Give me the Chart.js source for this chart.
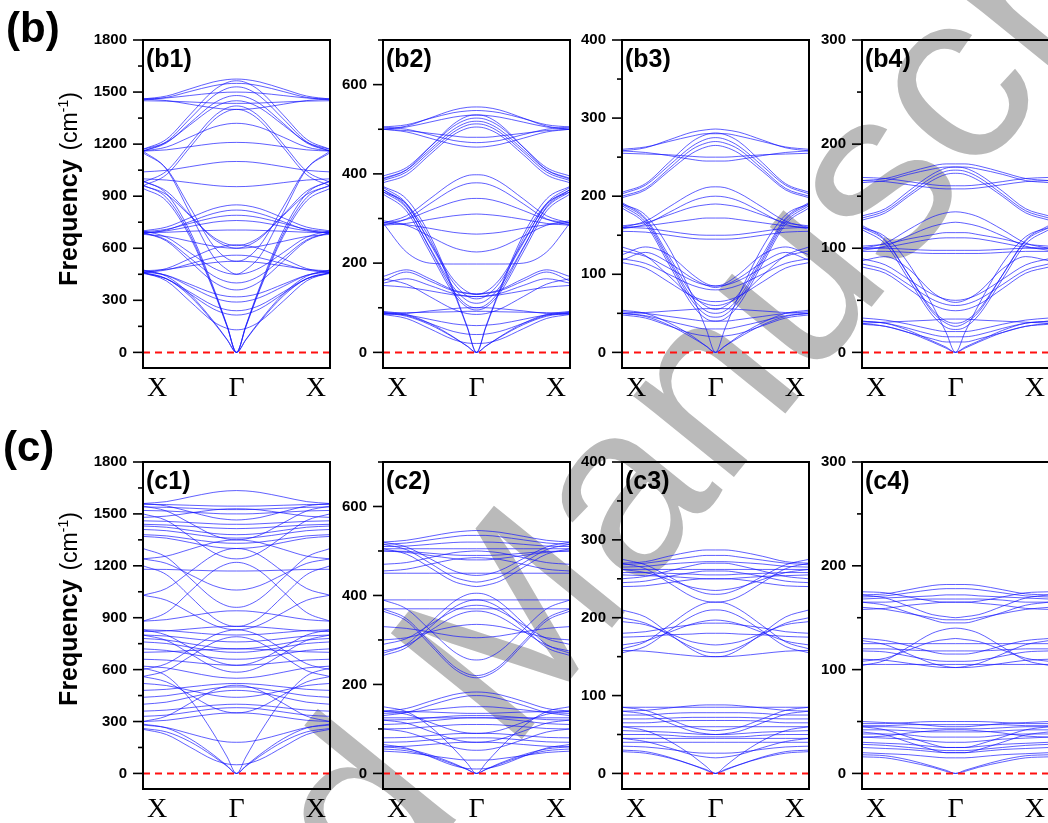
<!DOCTYPE html>
<html><head><meta charset="utf-8">
<script src="https://cdn.jsdelivr.net/npm/chart.js@4.4.1/dist/chart.umd.min.js"></script>
<style>
html,body{margin:0;padding:0;background:#fff;width:1048px;height:823px;overflow:hidden;position:relative;font-family:"Liberation Sans",Arial,sans-serif;}
canvas.pc{position:absolute;z-index:2;}
#wm{position:absolute;left:0;top:0;z-index:1;}
.big{position:absolute;font-weight:bold;font-size:42px;line-height:1;z-index:3;}
.ytitle{position:absolute;white-space:nowrap;transform:translate(-50%,-50%) rotate(-90deg);line-height:1;z-index:3;}
.ytitle b{font-size:25px;}
.ytitle span{font-size:23px;}
.ytitle sup{font-size:14px;}
</style></head><body>
<canvas id="wm" width="1048" height="823"></canvas>
<div class="big" style="left:6px;top:7px;">(b)</div>
<div class="big" style="left:3px;top:426px;">(c)</div>
<div class="ytitle" style="left:68px;top:189px;"><b>Frequency</b>&nbsp;&nbsp;<span>(cm<sup>-1</sup>)</span></div>
<div class="ytitle" style="left:68px;top:609px;"><b>Frequency</b>&nbsp;&nbsp;<span>(cm<sup>-1</sup>)</span></div>
<script>
// ---- shared k-path (fraction of X→Γ) and x tick labels ----
const kHalf = [0, 0.25, 0.5, 0.75, 0.9, 1];
const xTickPos = [0.15, 1, 1.85];
const xTickLabels = ['X', '\u0393', 'X'];

// ---- y-axis ticks ----
const b1Ticks = [0, 300, 600, 900, 1200, 1500, 1800];
const b1Minor = [150, 450, 750, 1050, 1350, 1650];
const b2Ticks = [0, 200, 400, 600];
const b2Minor = [100, 300, 500, 700];
const b3Ticks = [0, 100, 200, 300, 400];
const b3Minor = [50, 150, 250, 350];
const b4Ticks = [0, 100, 200, 300];
const b4Minor = [50, 150, 250];

// ---- band values at kHalf (X ... Γ), cm^-1 ----
const b1Bands = [
[460,425,325,176,72,0],[475,439,336,182,74,0],[945,873,668,362,147,0],[965,892,682,370,151,0],[990,915,700,379,154,0],
[460,412,295,178,138,130],[460,424,338,251,221,215],[455,424,348,271,245,240],[470,444,380,316,294,290],[465,444,393,341,323,320],
[470,478,498,517,524,525],[460,475,510,545,558,560],[460,483,540,597,616,620],
[690,642,525,408,368,360],[690,648,545,442,407,400],[700,664,575,487,456,450],[680,668,640,612,602,600],
[690,700,725,750,758,760],[695,709,743,776,788,790],[685,705,753,800,817,820],[700,722,775,828,846,850],[690,692,698,703,705,705],
[960,910,788,665,624,615],[985,929,793,656,611,600],[1000,993,978,962,956,955],[1040,1049,1070,1091,1099,1100],
[960,1024,1180,1336,1389,1400],[980,1044,1200,1356,1409,1420],
[1160,1167,1185,1203,1209,1210],[1160,1183,1240,1297,1316,1320],[1160,1214,1345,1476,1521,1530],[1170,1228,1368,1507,1555,1565],
[1160,1207,1320,1433,1472,1480],[1170,1211,1310,1409,1443,1450],[1160,1056,805,554,477,450],[1150,1059,838,616,540,525],
[1460,1477,1518,1558,1572,1575],[1455,1469,1503,1536,1548,1550],[1460,1466,1480,1494,1499,1500],[1460,1451,1430,1409,1401,1400],[1450,1448,1443,1437,1435,1435]
];
const b2Bands = [
[500,507,525,543,549,550],[505,510,524,537,541,542],[500,505,516,527,531,532],[500,494,480,466,461,460],[505,500,488,475,471,470],[500,497,491,485,482,482],
[380,398,443,487,502,505],[385,404,449,493,509,512],[390,409,454,499,515,518],[395,414,460,506,522,525],[388,409,460,511,529,532],
[365,326,233,139,106,100],[360,324,235,147,116,110],[370,334,245,157,126,120],[365,331,248,164,136,130],[355,317,225,133,101,95],
[290,306,344,382,396,398],[285,299,333,366,378,380],[290,298,318,337,344,345],[285,289,298,306,309,310],[290,286,278,269,266,265],
[295,285,260,235,227,225],[290,225,200,198,198,198],
[160,180,160,138,132,130],[170,185,165,140,133,131],[155,165,150,132,126,125],[150,146,138,129,126,125],[165,153,125,97,87,85],
[88,81,62,34,14,0],[92,85,65,35,14,0],[88,84,74,64,61,60],[90,83,65,47,41,40],[85,76,53,29,21,20],[85,87,93,98,100,100],[88,89,90,91,92,92],
[360,333,255,138,56,0],[372,344,263,142,58,0]
];
const b3Bands = [
[258,262,272,282,285,286],[260,263,270,277,280,280],[258,256,252,247,245,245],[255,254,253,251,250,250],
[198,208,232,255,263,265],[200,210,235,260,268,270],[203,214,239,264,273,275],[205,216,243,270,279,281],
[190,170,120,70,53,50],[188,167,117,66,48,45],[192,172,124,75,59,55],[185,164,113,61,43,40],
[160,168,186,204,211,212],[158,164,179,194,199,200],[162,166,176,186,189,190],[160,162,166,170,172,172],[160,159,155,151,150,150],[155,154,150,146,145,145],
[130,123,108,92,86,85],[120,114,100,86,81,80],[115,108,90,72,66,65],[125,135,125,100,88,85],[118,128,115,95,86,83],[135,124,98,71,62,60],
[50,46,35,19,8,0],[54,50,38,21,8,0],[50,47,40,33,30,30],[48,44,34,24,21,20],[52,50,46,42,40,40],[50,51,53,55,56,56],
[190,176,134,73,30,0]
];
const b4Bands = [
[165,167,173,179,181,181],[163,165,171,176,178,178],[165,164,161,158,157,157],[168,167,164,161,160,160],
[127,134,150,165,171,172],[129,136,152,168,174,175],[131,138,155,171,177,178],
[122,108,74,39,28,25],[120,107,74,41,30,28],[118,104,70,36,24,22],
[100,105,118,130,134,135],[98,102,112,121,124,125],[102,104,109,113,115,115],[100,101,105,109,110,110],[100,100,99,98,98,98],[97,97,96,95,95,95],
[90,84,70,56,51,50],[85,79,65,51,46,45],[82,76,61,46,41,40],[88,92,80,58,50,48],
[30,28,21,11,5,0],[27,25,19,10,4,0],[33,31,27,22,20,20],[30,28,23,17,15,15],[28,25,19,13,10,10],[28,29,30,31,32,32],
[120,111,85,46,19,0]
];
const c1Bands = [
[1560,1571,1598,1624,1633,1635],[1555,1554,1550,1546,1545,1545],[1540,1538,1533,1527,1525,1525],[1520,1517,1510,1503,1500,1500],
[1480,1487,1505,1523,1529,1530],[1560,1546,1513,1479,1468,1465],[1460,1457,1450,1443,1440,1440],[1440,1436,1428,1419,1416,1415],
[1430,1423,1405,1387,1381,1380],[1410,1403,1385,1367,1361,1360],[1380,1373,1355,1337,1331,1330],[1370,1360,1335,1310,1302,1300],
[1545,1517,1448,1378,1355,1350],[1500,1462,1370,1278,1246,1240],[1240,1256,1295,1334,1347,1350],
[1030,1069,1165,1261,1294,1300],[880,930,1050,1170,1211,1220],[1240,1214,1150,1086,1064,1060],[1180,1179,1175,1171,1170,1170],
[1200,1149,1025,901,858,850],[1300,1250,1130,1010,968,960],[880,889,910,931,939,940],[1030,1001,930,859,835,830],
[830,826,815,804,801,800],[820,824,835,846,849,850],[800,794,780,766,761,760],[780,771,750,729,721,720],[760,751,730,709,701,700],
[720,711,690,669,661,660],[600,634,715,796,824,830],[560,594,675,756,784,790],[830,800,728,655,630,625],[800,769,693,616,590,585],
[660,655,643,630,626,625],[620,610,585,560,552,550],[700,703,710,717,720,720],
[480,486,500,514,519,520],[440,449,470,491,499,500],[520,508,480,452,442,440],[400,412,440,468,478,480],[360,366,380,394,399,400],
[330,337,355,373,379,380],[300,307,325,343,349,350],[560,529,455,381,355,350],[300,331,405,479,505,510],[280,265,230,195,182,180],
[260,240,184,100,41,0],[285,263,201,109,44,0],[610,564,431,234,95,0],[255,225,153,80,55,50]
];
const c2Bands = [
[520,524,533,542,545,546],[515,518,525,532,535,535],[510,511,515,519,520,520],[505,505,505,505,505,505],[500,499,495,491,490,490],[500,497,490,483,480,480],
[520,509,483,456,447,445],[515,503,473,442,433,430],[505,493,463,432,423,420],[470,474,485,496,499,500],[455,459,470,481,484,485],[450,450,450,450,450,450],
[270,290,338,385,402,405],[265,283,328,372,387,390],[290,303,334,365,376,378],[390,370,323,275,258,255],[370,348,295,242,224,220],[365,343,290,237,219,215],
[330,326,318,309,306,305],[390,390,390,390,390,390],[370,370,370,370,370,370],[300,305,318,330,334,335],[275,288,320,352,363,365],
[140,146,162,177,182,183],[130,137,153,168,174,175],[135,137,143,148,150,150],[140,139,138,136,135,135],[120,121,125,129,130,130],[110,112,118,123,125,125],
[100,101,105,109,110,110],[80,81,85,89,90,90],[70,71,75,79,80,80],[60,61,65,69,70,70],[140,133,115,97,91,90],[120,113,95,77,71,70],[100,93,76,59,53,52],
[60,55,42,23,9,0],[55,51,39,21,9,0],[50,47,40,33,30,30],[65,57,38,18,11,10],[150,139,106,57,23,0],[125,125,125,125,125,125]
];
const c3Bands = [
[270,272,279,285,287,287],[268,270,274,278,280,280],[265,266,269,271,272,272],[262,262,262,262,262,262],[258,258,257,256,255,255],[255,254,253,251,250,250],
[275,268,253,237,231,230],[270,263,245,227,221,220],[262,258,249,239,236,235],[245,247,253,258,260,260],[240,241,245,249,250,250],[250,253,260,267,270,270],
[160,169,190,211,219,220],[155,163,183,202,209,210],[165,170,181,192,196,197],[210,201,180,159,151,150],[200,193,178,162,156,155],[195,191,180,169,166,165],
[180,182,187,191,193,193],[175,176,178,179,180,180],[158,157,154,151,150,150],
[80,81,84,87,88,88],[85,85,85,85,85,85],[75,75,77,78,78,78],[70,70,71,72,72,72],[65,65,67,68,68,68],[60,60,60,60,60,60],[55,54,53,51,50,50],
[50,50,49,47,47,47],[45,45,45,45,45,45],[40,40,40,40,40,40],[85,81,70,59,56,55],[80,76,65,54,51,50],[35,34,31,27,26,26],
[30,28,21,11,5,0],[28,26,20,11,4,0],[45,41,33,24,21,20],[60,55,42,23,9,0]
];
const c4Bands = [
[172,173,177,181,182,182],[170,171,174,177,178,178],[168,169,170,171,172,172],[165,165,167,168,168,168],[175,174,170,166,165,165],
[172,169,161,153,151,150],[165,162,155,148,145,145],[160,158,154,150,148,148],[158,159,162,164,165,165],
[104,109,122,135,139,140],[108,111,119,127,129,130],[125,125,125,125,125,125],[130,128,123,117,115,115],[118,117,113,109,108,108],
[110,109,106,103,102,102],[128,124,115,106,103,102],[120,120,119,118,118,118],[105,105,105,105,105,105],
[48,48,49,50,50,50],[46,46,47,47,47,47],[45,45,44,43,43,43],[42,42,41,40,40,40],[38,38,37,35,35,35],[35,34,33,31,30,30],
[30,29,28,26,25,25],[28,27,25,23,22,22],[25,24,23,21,20,20],[20,19,18,16,15,15],[45,42,35,28,25,25],[40,37,30,23,20,20],
[18,17,13,7,3,0],[16,15,11,6,2,0],[50,49,48,46,45,45],[35,36,39,41,42,42]
];

// ---- panel layout (pixel placement of each plot frame) ----
const panels = [
  {bands:b1Bands, min:-90, max:1800, ticks:b1Ticks, minor:b1Minor, label:'(b1)', l:143, t:40, h:328},
  {bands:b2Bands, min:-35, max:700,  ticks:b2Ticks, minor:b2Minor, label:'(b2)', l:383, t:40, h:328},
  {bands:b3Bands, min:-20, max:400,  ticks:b3Ticks, minor:b3Minor, label:'(b3)', l:622, t:40, h:328},
  {bands:b4Bands, min:-15, max:300,  ticks:b4Ticks, minor:b4Minor, label:'(b4)', l:862, t:40, h:328},
  {bands:c1Bands, min:-90, max:1800, ticks:b1Ticks, minor:b1Minor, label:'(c1)', l:143, t:462, h:327},
  {bands:c2Bands, min:-35, max:700,  ticks:b2Ticks, minor:b2Minor, label:'(c2)', l:383, t:462, h:327},
  {bands:c3Bands, min:-20, max:400,  ticks:b3Ticks, minor:b3Minor, label:'(c3)', l:622, t:462, h:327},
  {bands:c4Bands, min:-15, max:300,  ticks:b4Ticks, minor:b4Minor, label:'(c4)', l:862, t:462, h:327}
];

// watermark
(function(){
  const c = document.getElementById('wm').getContext('2d');
  c.save();
  c.fillStyle = 'rgb(186,186,186)';
  c.font = '245px "Liberation Sans"';
  const txt = 'Accepted Manuscript';
  const off = c.measureText('Accepted ').width + c.measureText('M').width / 2;
  c.translate(505, 620);
  c.rotate(-51 * Math.PI / 180);
  c.fillText(txt, -off, 88);
  c.restore();
})();

const framePlugin = {
  id: 'frame',
  afterDraw(chart, args, opts) {
    const ctx = chart.ctx, a = chart.chartArea, y = chart.scales.y;
    ctx.save();
    ctx.strokeStyle = '#000';
    ctx.lineWidth = 1.6;
    opts.major.forEach(v => { const p = y.getPixelForValue(v); ctx.beginPath(); ctx.moveTo(a.left - 10, p); ctx.lineTo(a.left, p); ctx.stroke(); });
    opts.minor.forEach(v => { const p = y.getPixelForValue(v); ctx.beginPath(); ctx.moveTo(a.left - 5, p); ctx.lineTo(a.left, p); ctx.stroke(); });
    ctx.lineWidth = 2;
    ctx.strokeRect(a.left, a.top, a.right - a.left, a.bottom - a.top);
    ctx.fillStyle = '#000';
    ctx.font = 'bold 25px "Liberation Sans"';
    ctx.textBaseline = 'alphabetic';
    ctx.textAlign = 'left';
    ctx.fillText(opts.label, a.left + 3, a.top + 27);
    ctx.restore();
  }
};

panels.forEach((p, idx) => {
  const cv = document.createElement('canvas');
  cv.className = 'pc';
  const W = 270, H = p.h + 60;
  cv.width = W; cv.height = H;
  cv.style.width = W + 'px'; cv.style.height = H + 'px';
  cv.style.left = (p.l - 75) + 'px'; cv.style.top = (p.t - 15) + 'px';
  document.body.appendChild(cv);

  const datasets = [{
    data: [{x: 0, y: 0}, {x: 2, y: 0}],
    borderColor: '#ff1010', borderWidth: 2, borderDash: [7, 5], tension: 0, cubicInterpolationMode: 'default'
  }];
  p.bands.forEach(b => {
    const pts = kHalf.map((k, i) => ({x: k, y: b[i]}));
    for (let i = kHalf.length - 2; i >= 0; i--) pts.push({x: 2 - kHalf[i], y: b[i]});
    datasets.push({data: pts, borderColor: 'rgba(20,20,255,0.85)', borderWidth: 0.8, cubicInterpolationMode: 'monotone'});
  });

  new Chart(cv, {
    type: 'line',
    data: {datasets},
    options: {
      responsive: false, animation: false, devicePixelRatio: 1,
      layout: {padding: {left: 0, top: 15, right: 8, bottom: 0}},
      elements: {point: {radius: 0, hoverRadius: 0}},
      plugins: {legend: {display: false}, tooltip: {enabled: false}, frame: {major: p.ticks, minor: p.minor, label: p.label}},
      events: [],
      scales: {
        x: {
          type: 'linear', min: 0, max: 2,
          afterBuildTicks: s => { s.ticks = xTickPos.map(v => ({value: v})); },
          afterFit: s => { s.height = 45; },
          ticks: {callback: (v, i) => xTickLabels[i], font: {family: 'Liberation Serif', size: 28}, color: '#000', padding: 4, maxRotation: 0, autoSkip: false},
          grid: {display: false, drawTicks: false},
          border: {display: false}
        },
        y: {
          type: 'linear', min: p.min, max: p.max,
          afterBuildTicks: s => { s.ticks = p.ticks.map(v => ({value: v})); },
          afterFit: s => { s.width = 75; },
          ticks: {callback: v => String(v), font: {family: 'Liberation Sans', size: 15, weight: 'bold'}, color: '#000', padding: 6, autoSkip: false},
          grid: {drawOnChartArea: false, drawTicks: true, tickLength: 10, tickColor: 'rgba(0,0,0,0)'},
          border: {display: false}
        }
      }
    },
    plugins: [framePlugin]
  });
});
</script>
</body></html>
